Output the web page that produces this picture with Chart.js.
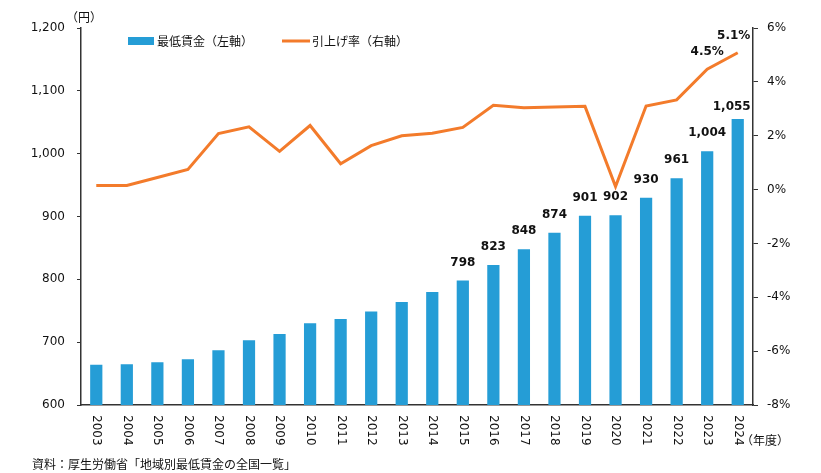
<!DOCTYPE html>
<html>
<head>
<meta charset="utf-8">
<script src="https://cdn.jsdelivr.net/npm/chart.js@4.4.1/dist/chart.umd.min.js"></script>
<style>
  body { margin: 0; background: #fff; }
</style>
</head>
<body>
<canvas id="grafica" width="821" height="473"></canvas>
<script>
const years = ['2003', '2004', '2005', '2006', '2007', '2008', '2009', '2010', '2011', '2012', '2013',
    '2014', '2015', '2016', '2017', '2018', '2019', '2020', '2021', '2022', '2023', '2024'];
const wages = [664, 665, 668, 673, 687, 703, 713, 730, 737, 749, 764,
    780, 798, 823, 848, 874, 901, 902, 930, 961, 1004, 1055];
const rates = [0.15, 0.15, 0.45, 0.75, 2.08, 2.33, 1.42, 2.38, 0.96, 1.63, 2.0,
    2.09, 2.31, 3.13, 3.04, 3.07, 3.09, 0.11, 3.1, 3.33, 4.47, 5.08];
const wageLabelFrom = 12; // 2015 以降に数値表示
const rateLabelFrom = 20; // 2023 以降に数値表示

const numFont = '"DejaVu Sans", Verdana, sans-serif';
const jpFont = '"Noto Sans CJK JP", sans-serif';
const barColor = '#259dd6';
const lineColor = '#f37b2b';
const axisColor = '#333';

// 凡例、年ラベル、データラベルなどを描く
const extras = {
    id: 'extras',
    afterDatasetsDraw(chart) {
        const ctx = chart.ctx;
        ctx.save();
        ctx.fillStyle = '#111';

        // バーの数値
        ctx.font = 'bold 12px ' + numFont;
        ctx.textAlign = 'center';
        ctx.textBaseline = 'middle';
        const bars = chart.getDatasetMeta(0).data;
        for (let i = wageLabelFrom; i < wages.length; i++) {
            let dx = 0, dy = 18;
            if (i === wages.length - 1) { dx = -6; dy = 12; }
            ctx.fillText(wages[i].toLocaleString('en-US'), bars[i].x + dx, bars[i].y - dy);
        }

        // 引上げ率の数値
        const pts = chart.getDatasetMeta(1).data;
        for (let i = rateLabelFrom; i < rates.length; i++) {
            let dx = i === rates.length - 1 ? -4 : 0;
            ctx.fillText(rates[i].toFixed(1) + '%', pts[i].x + dx, pts[i].y - 17);
        }

        // 年ラベル（時計回りに回転）
        ctx.font = '12px ' + numFont;
        ctx.textAlign = 'left';
        const xs = chart.scales.x;
        years.forEach((y, i) => {
            ctx.save();
            ctx.translate(xs.getPixelForValue(i), chart.chartArea.bottom + 10);
            ctx.rotate(Math.PI / 2);
            ctx.fillText(y, 0, 0);
            ctx.restore();
        });

        // 単位・出典
        ctx.font = '12px ' + jpFont;
        ctx.textBaseline = 'middle';
        ctx.fillText('（年度）', 741, 440);
        ctx.fillText('（円）', 66, 17);
        ctx.fillText('資料：厚生労働省「地域別最低賃金の全国一覧」', 32, 464);

        // 凡例
        ctx.fillStyle = barColor;
        ctx.fillRect(128, 37, 26, 8);
        ctx.strokeStyle = lineColor;
        ctx.lineWidth = 3;
        ctx.beginPath();
        ctx.moveTo(282, 41);
        ctx.lineTo(310, 41);
        ctx.stroke();
        ctx.fillStyle = '#111';
        ctx.fillText('最低賃金（左軸）', 157, 41);
        ctx.fillText('引上げ率（右軸）', 312, 41);

        ctx.restore();
    }
};

const ctx1 = document.getElementById('grafica').getContext('2d');

new Chart(ctx1, {
    data: {
        labels: years,
        datasets: [{
            type: 'bar',
            label: '最低賃金（左軸）',
            data: wages,
            backgroundColor: barColor,
            barPercentage: 0.4,
            categoryPercentage: 1,
            yAxisID: 'y',
            order: 1
        }, {
            type: 'line',
            label: '引上げ率（右軸）',
            data: rates,
            borderColor: lineColor,
            borderWidth: 3,
            pointRadius: 0,
            tension: 0,
            yAxisID: 'y1',
            order: 0
        }]
    },
    options: {
        responsive: false,
        animation: false,
        layout: { padding: { top: 28, left: 0, right: 0, bottom: 0 } },
        plugins: {
            legend: { display: false },
            tooltip: { enabled: false }
        },
        scales: {
            x: {
                ticks: { display: false },
                grid: { display: false },
                border: { color: axisColor, width: 1.5 },
                afterFit: (s) => { s.height = 68; }
            },
            y: {
                position: 'left',
                min: 600,
                max: 1200,
                ticks: {
                    stepSize: 100,
                    padding: 12,
                    color: '#111',
                    font: { size: 12, family: numFont },
                    callback: (v) => v.toLocaleString('en-US')
                },
                grid: { drawOnChartArea: false, tickLength: 4, color: axisColor },
                border: { color: axisColor, width: 1.5 },
                afterFit: (s) => { s.width = 81; }
            },
            y1: {
                position: 'right',
                min: -8,
                max: 6,
                ticks: {
                    stepSize: 2,
                    padding: 9,
                    color: '#111',
                    font: { size: 12, family: numFont },
                    callback: (v) => v + '%'
                },
                grid: { drawOnChartArea: false, tickLength: 5, color: axisColor },
                border: { color: axisColor, width: 1.5 },
                afterFit: (s) => { s.width = 68; }
            }
        }
    },
    plugins: [extras]
});
</script>
</body>
</html>
